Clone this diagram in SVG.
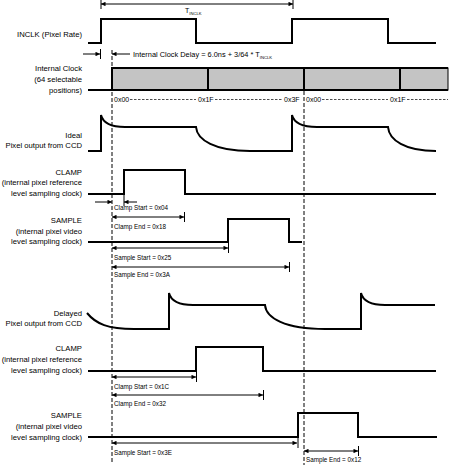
<svg xmlns="http://www.w3.org/2000/svg" width="450" height="465" viewBox="0 0 450 465">
<style>
.lbl{font-family:"Liberation Sans",Arial,sans-serif;font-size:7.7px;fill:#000;text-anchor:end}
.ann{font-family:"Liberation Sans",Arial,sans-serif;font-size:6.3px;fill:#000}
.hex{font-family:"Liberation Sans",Arial,sans-serif;font-size:7px;fill:#000}
.sig{fill:none;stroke:#000;stroke-width:2;stroke-linejoin:miter}
.arr{fill:none;stroke:#000;stroke-width:1}
.tick{stroke:#000;stroke-width:1}
.dash{stroke:#000;stroke-width:1;stroke-dasharray:4,2}
.dot{stroke:#000;stroke-width:0.7;stroke-dasharray:2.5,1.5}
</style>
<defs>
<marker id="ah" viewBox="0 0 10 10" refX="10" refY="5" markerWidth="7" markerHeight="4.5" orient="auto-start-reverse" markerUnits="userSpaceOnUse"><path d="M0,0 L10,5 L0,10 z" fill="#000"/></marker>
</defs>
<rect width="450" height="465" fill="#fff"/>

<g id="labels">
<text class="lbl" x="82" y="37">INCLK (Pixel Rate)</text>
<text class="lbl" x="82" y="71">Internal Clock</text>
<text class="lbl" x="82" y="82">(64 selectable</text>
<text class="lbl" x="82" y="93">positions)</text>
<text class="lbl" x="82" y="138">Ideal</text>
<text class="lbl" x="82" y="148">Pixel output from CCD</text>
<text class="lbl" x="82" y="175">CLAMP</text>
<text class="lbl" x="82" y="185">(internal pixel reference</text>
<text class="lbl" x="82" y="196">level sampling clock)</text>
<text class="lbl" x="82" y="223">SAMPLE</text>
<text class="lbl" x="82" y="234">(internal pixel video</text>
<text class="lbl" x="82" y="244">level sampling clock)</text>
<text class="lbl" x="82" y="316">Delayed</text>
<text class="lbl" x="82" y="326">Pixel output from CCD</text>
<text class="lbl" x="82" y="351">CLAMP</text>
<text class="lbl" x="82" y="362">(internal pixel reference</text>
<text class="lbl" x="82" y="373">level sampling clock)</text>
<text class="lbl" x="82" y="418">SAMPLE</text>
<text class="lbl" x="82" y="429">(internal pixel video</text>
<text class="lbl" x="82" y="440">level sampling clock)</text>
</g>

<g id="grid">
<line class="dash" x1="112" y1="50" x2="112" y2="462"/>
<line class="dash" x1="304" y1="91" x2="304" y2="465"/>
</g>

<g id="inclk">
<path class="sig" d="M88,43 H101 V19 H196 V43 H292 V19 H388 V43 H436"/>
</g>

<g id="internal-clock">
<path class="sig" d="M88,90 H112"/>
<rect x="112" y="68" width="336" height="22" fill="#c4c4c4" stroke="#000" stroke-width="1"/>
<path class="sig" d="M112,90 V68 H448 M208,68 V90 M304,68 V90 M400,68 V90 M112,90 H448"/>
<text class="hex" x="114" y="102">0x00</text>
<text class="hex" x="198" y="102">0x1F</text>
<text class="hex" x="284" y="102">0x3F</text>
<text class="hex" x="306" y="102">0x00</text>
<text class="hex" x="390" y="102">0x1F</text>
<line class="dot" x1="130" y1="99.5" x2="196" y2="99.5"/>
<line class="dot" x1="215" y1="99.5" x2="283" y2="99.5"/>
<line class="dot" x1="322" y1="99.5" x2="388" y2="99.5"/>
<line class="dot" x1="407" y1="99.5" x2="448" y2="99.5"/>
</g>

<g id="ideal">
<path class="sig" d="M88,151 H101 V115 Q104,127 125,127 H196 C197,140 215,151 250,151 H292 V115 Q295,127 317,127 H388 C389,140 405,151 436,151"/>
</g>

<g id="clamp1">
<path class="sig" d="M88,194 H124 V170 H185 V194 H436"/>
</g>

<g id="sample1">
<path class="sig" d="M88,242 H228 V219 H289 V242 H302"/>
</g>

<g id="delayed">
<path class="sig" d="M87,313 C96,324 108,329 134,329 H169 V293 Q172,305 193,305 H265 C266,318 285,329 325,329 H361 V293 Q364,305 385,305 H435"/>
</g>

<g id="clamp2">
<path class="sig" d="M88,371 H196 V347 H263 V371 H436"/>
</g>

<g id="sample2">
<path class="sig" d="M88,437 H298 V413 H358 V437 H437"/>
</g>

<g id="connectors">
<line class="arr" x1="101" y1="4" x2="293" y2="4" marker-start="url(#ah)" marker-end="url(#ah)"/>
<line class="tick" x1="101" y1="0" x2="101" y2="9"/>
<line class="tick" x1="293" y1="0" x2="293" y2="9"/>
<line class="arr" x1="83" y1="54" x2="100" y2="54" marker-end="url(#ah)"/>
<line class="tick" x1="100.5" y1="49" x2="100.5" y2="59"/>
<line class="arr" x1="130" y1="54" x2="112" y2="54" marker-end="url(#ah)"/>

<line class="arr" x1="95" y1="202" x2="112" y2="202" marker-end="url(#ah)"/>
<line class="arr" x1="137" y1="202" x2="124" y2="202" marker-end="url(#ah)"/>
<line class="tick" x1="124" y1="195" x2="124" y2="206"/>

<line class="arr" x1="112" y1="217" x2="184" y2="217" marker-start="url(#ah)" marker-end="url(#ah)"/>
<line class="tick" x1="184.5" y1="212" x2="184.5" y2="222"/>
<line class="arr" x1="112" y1="248" x2="228" y2="248" marker-start="url(#ah)" marker-end="url(#ah)"/>
<line class="tick" x1="228.5" y1="243" x2="228.5" y2="253"/>
<line class="arr" x1="112" y1="267" x2="289" y2="267" marker-start="url(#ah)" marker-end="url(#ah)"/>
<line class="tick" x1="289.5" y1="262" x2="289.5" y2="272"/>

<line class="arr" x1="112" y1="377" x2="196" y2="377" marker-start="url(#ah)" marker-end="url(#ah)"/>
<line class="tick" x1="196.5" y1="372" x2="196.5" y2="382"/>
<line class="arr" x1="112" y1="395" x2="263" y2="395" marker-start="url(#ah)" marker-end="url(#ah)"/>
<line class="tick" x1="263.5" y1="390" x2="263.5" y2="400"/>
<line class="arr" x1="112" y1="443" x2="297" y2="443" marker-start="url(#ah)" marker-end="url(#ah)"/>
<line class="tick" x1="298" y1="438" x2="298" y2="448"/>
<line class="arr" x1="304" y1="451" x2="358" y2="451" marker-start="url(#ah)" marker-end="url(#ah)"/>
<line class="tick" x1="358.5" y1="446" x2="358.5" y2="456"/>
</g>

<g id="annotations">
<text class="ann" x="185" y="13" style="font-size:7px">T<tspan style="font-size:4.2px" dy="1.5">INCLK</tspan></text>
<text class="ann" x="133" y="57" style="font-size:7.4px">Internal Clock Delay = 6.0ns + 3/64 * T<tspan style="font-size:4.2px" dy="1.5">INCLK</tspan></text>
<text class="ann" x="114" y="210">Clamp Start = 0x04</text>
<text class="ann" x="114" y="229">Clamp End = 0x18</text>
<text class="ann" x="114" y="260">Sample Start = 0x25</text>
<text class="ann" x="114" y="277">Sample End = 0x3A</text>
<text class="ann" x="114" y="389">Clamp Start = 0x1C</text>
<text class="ann" x="114" y="406">Clamp End = 0x32</text>
<text class="ann" x="114" y="455">Sample Start = 0x3E</text>
<text class="ann" x="306" y="462">Sample End = 0x12</text>
</g>
</svg>
